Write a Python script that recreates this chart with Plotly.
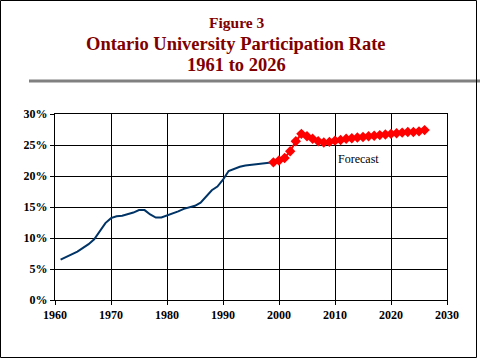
import plotly.graph_objects as go

# ---- data ----
actual_years = list(range(1961, 2000))
actual_rate = [6.5, 6.9, 7.3, 7.8, 8.4, 9.0, 9.8, 11.2, 12.4, 13.2,
               13.5, 13.6, 13.8, 14.1, 14.5, 14.5, 13.8, 13.3, 13.3, 13.6,
               13.9, 14.3, 14.7, 15.0, 15.2, 15.7, 16.7, 17.7, 18.3, 19.4,
               20.8, 21.2, 21.5, 21.7, 21.8, 21.9, 21.9, 22.0, 22.2]
forecast_years = list(range(1999, 2027))
forecast_rate = [22.2, 22.5, 22.9, 24.0, 25.6, 26.8, 26.4, 26.0, 25.6, 25.4,
                 25.5, 25.7, 25.8, 26.0, 26.1, 26.2, 26.3, 26.4, 26.5, 26.6,
                 26.7, 26.8, 26.9, 27.0, 27.1, 27.1, 27.2, 27.4]
x_ticks = [1960, 1970, 1980, 1990, 2000, 2010, 2020, 2030]
y_ticks = [0, 0.05, 0.10, 0.15, 0.20, 0.25, 0.30]
title_lines = ["Figure 3", "Ontario University Participation Rate", "1961 to 2026"]
forecast_label = "Forecast"

W, H = 480, 360
L, R, T, B = 55, 33, 114, 60
PW, PH = W - L - R, H - T - B


def px(x):
    return (x - L) / PW


def py(y):
    return (H - B - y) / PH


SERIF = "Times New Roman, Liberation Serif, serif"
DARKRED = "#800000"

fig = go.Figure()
fig.add_trace(go.Scatter(
    x=actual_years, y=[v / 100 for v in actual_rate], mode="lines",
    line=dict(color="#003366", width=2), showlegend=False))
fig.add_trace(go.Scatter(
    x=forecast_years, y=[v / 100 for v in forecast_rate], mode="lines+markers",
    line=dict(color="#FF0000", width=2),
    marker=dict(symbol="diamond", size=8, color="#FF0000"), showlegend=False))

axis_common = dict(showline=True, linecolor="black", linewidth=1, mirror=True,
                   showgrid=True, gridcolor="black", gridwidth=1,
                   ticks="outside", ticklen=4, tickcolor="black", zeroline=False,
                   tickfont=dict(family=SERIF, size=12, color="black", weight="bold"))

fig.update_layout(
    width=W, height=H,
    margin=dict(l=L, r=R, t=T, b=B),
    paper_bgcolor="white", plot_bgcolor="white",
    xaxis=dict(range=[1960, 2030], tickvals=x_ticks, ticktext=[str(v) for v in x_ticks],
               **axis_common),
    yaxis=dict(range=[0, 0.30], tickvals=y_ticks,
               ticktext=[f"{round(v*100)}%" for v in y_ticks], **axis_common),
)

# titles
title_sizes = [15.5, 18.5, 18.5]
title_y = [22, 44, 65]
for txt, sz, ty in zip(title_lines, title_sizes, title_y):
    fig.add_annotation(x=px(236), y=py(ty), xref="paper", yref="paper",
                       text=f"<b>{txt}</b>", showarrow=False,
                       xanchor="center", yanchor="middle",
                       font=dict(family=SERIF, size=sz, color=DARKRED))

fig.add_annotation(x=2010.2, y=0.228, xref="x", yref="y", text=forecast_label,
                   showarrow=False, xanchor="left", yanchor="middle",
                   font=dict(family=SERIF, size=12, color="black"))

# gray rule under title
fig.add_shape(type="line", xref="paper", yref="paper",
              x0=px(29), x1=px(480), y0=py(81), y1=py(81),
              line=dict(color="#808080", width=3))
# outer frame
fig.add_shape(type="rect", xref="paper", yref="paper",
              x0=px(0.5), x1=px(476.5), y0=py(357.5), y1=py(0.5),
              line=dict(color="black", width=1))

fig.write_html("out.html",
               config={"displayModeBar": False},
               post_script="document.body.style.margin='0';document.body.style.overflow='hidden';")
